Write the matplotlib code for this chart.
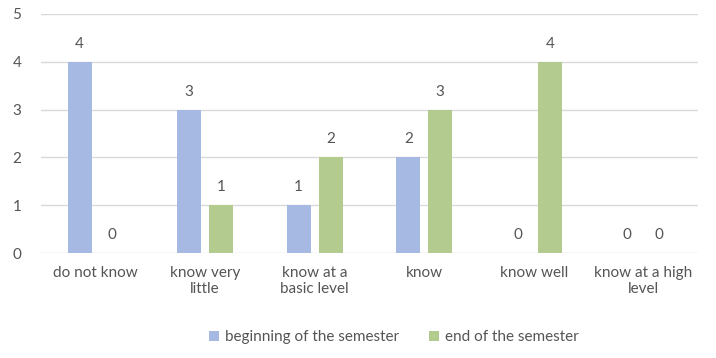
import numpy as np
import matplotlib.pyplot as plt

# categories and series
categories = ['do not know', 'know very\nlittle', 'know at a\nbasic level',
              'know', 'know well', 'know at a high\nlevel']
beginning = [4, 3, 1, 2, 0, 0]
end = [0, 1, 2, 3, 4, 0]
series_names = ['beginning of the semester', 'end of the semester']

blue = '#a6b9e2'
green = '#b4cb8f'
txt = '#555555'

plt.rcParams['font.family'] = ['Lato', 'DejaVu Sans']

fig = plt.figure(figsize=(7.16, 3.58), dpi=100)
ax = fig.add_axes([0.057, 0.293, 0.918, 0.668])

x = np.arange(len(categories))
w = 0.22
off = 0.146
b1 = ax.bar(x - off, beginning, w, color=blue, label=series_names[0], zorder=2)
b2 = ax.bar(x + off, end, w, color=green, label=series_names[1], zorder=2)

for bars, vals in ((b1, beginning), (b2, end)):
    for rect, v in zip(bars, vals):
        ax.annotate(str(v), (rect.get_x() + rect.get_width() / 2, v),
                    xytext=(0, 8), textcoords='offset points',
                    ha='center', va='bottom', fontsize=11, color=txt)

ax.set_xlim(-0.5, len(categories) - 0.5)
ax.set_ylim(0, 5)
ax.set_yticks(range(6))
ax.set_xticks(x)
ax.set_xticklabels(categories)
ax.grid(axis='y', color='#d9d9d9', linewidth=1, zorder=0)
for s in ax.spines.values():
    s.set_visible(False)
ax.tick_params(length=0, colors=txt, labelsize=11)
ax.tick_params(axis='x', pad=9)
ax.tick_params(axis='y', pad=14)

fig.legend(loc='center', bbox_to_anchor=(0.55, 0.058), ncol=2, frameon=False,
           fontsize=11, labelcolor=txt, handlelength=0.7, handleheight=0.7,
           columnspacing=1.9, handletextpad=0.4)

fig.savefig('out.png', dpi=100)
